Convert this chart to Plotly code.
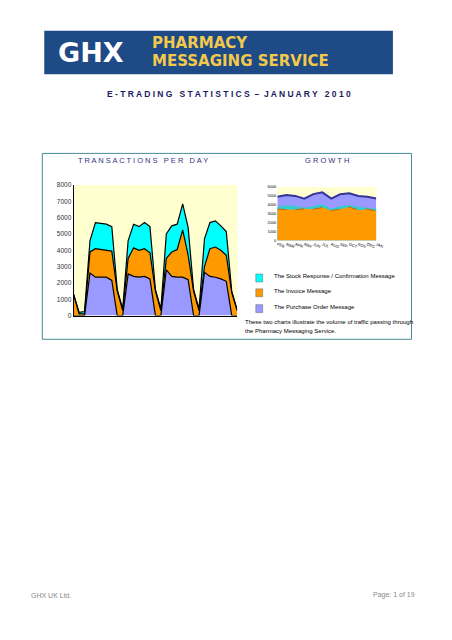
import plotly.graph_objects as go

days = list(range(1, 32))
po_total = [0,0,0,2600,2350,2350,2350,2150,0,0,2550,2400,2350,2400,2250,0,0,2800,2400,2350,2350,2200,0,0,2650,2400,2350,2250,2100,0,0]
inv_cum = [1300,100,100,3900,4100,4050,4000,3950,1500,300,3500,4150,4000,4100,3850,1500,300,3500,3900,4050,5250,3700,1500,300,3000,4100,4200,4000,3700,1400,300]
stock_cum = [1300,200,250,4600,5700,5650,5600,5450,1600,400,4600,5600,5450,5700,5450,1600,400,5000,5500,5600,6850,5400,1600,400,4700,5700,5800,5500,5150,1500,350]
invoice = [c - p for c, p in zip(inv_cum, po_total)]
stock = [s - c for s, c in zip(stock_cum, inv_cum)]

months = ["FEB","MAR","APR","MAY","JUN","JUL","AUG","SEP","OCT","NOV","DEC","JAN"]
g_po = [4900,5100,5000,4700,5200,5400,4700,5200,5300,5000,4900,4700]
g_stock = [3700,3900,3800,3600,3800,4000,3500,3800,3900,3700,3600,3500]
g_inv = [3500,3500,3450,3550,3500,3700,3350,3500,3750,3400,3500,3300]

OFF = 8
W, H = 452 - 2 * OFF, 640 - 2 * OFF
fig = go.Figure()
kw = dict(mode="lines", line=dict(color="black", width=1.2), stackgroup="a", xaxis="x", yaxis="y", showlegend=False)
fig.add_trace(go.Scatter(x=days, y=po_total, fillcolor="#9999FF", **kw))
fig.add_trace(go.Scatter(x=days, y=invoice, fillcolor="#FF9900", **kw))
fig.add_trace(go.Scatter(x=days, y=stock, fillcolor="#00FFFF", **kw))

fig.add_trace(go.Scatter(x=months, y=g_po, fill="tozeroy", fillcolor="#9999FF", line=dict(color="#333399", width=2), mode="lines", xaxis="x2", yaxis="y2", showlegend=False))
fig.add_trace(go.Scatter(x=months, y=g_stock, fill="tozeroy", fillcolor="#33CCCC", line=dict(color="#33CCCC", width=1), mode="lines", xaxis="x2", yaxis="y2", showlegend=False))
fig.add_trace(go.Scatter(x=months, y=g_inv, fill="tozeroy", fillcolor="#FF9900", line=dict(color="#CC6600", width=1, dash="dash"), mode="lines", xaxis="x2", yaxis="y2", showlegend=False))

def px(x): return (x - OFF) / W
def py(y): return 1 - (y - OFF) / H

fig.update_layout(
    width=W, height=H, margin=dict(l=0, r=0, t=0, b=0),
    paper_bgcolor="white", plot_bgcolor="#FFFFD0",
    font=dict(family="Liberation Sans, Arial", color="black"),
    xaxis=dict(domain=[px(74), px(241)], range=[1, 31], showticklabels=False, showgrid=False, zeroline=False, linecolor="black", showline=True),
    yaxis=dict(domain=[py(315), py(183)], range=[0, 8000], dtick=1000, showgrid=False, zeroline=False, tickfont=dict(size=6.5, color="#333"), ticks="", linecolor="black", showline=True),
    xaxis2=dict(domain=[px(282), px(383)], anchor="y2", tickfont=dict(size=4), tickangle=20, showgrid=False, ticks=""),
    yaxis2=dict(domain=[py(239), py(185)], anchor="x2", range=[0, 6000], dtick=1000, tickfont=dict(size=4), showgrid=False, zeroline=False, ticks=""),
)
shapes = [
    dict(type="rect", xref="paper", yref="paper", x0=px(44), x1=px(400), y0=py(71), y1=py(27), fillcolor="#1E4A86", line=dict(width=0), layer="below"),
    dict(type="rect", xref="paper", yref="paper", x0=px(42), x1=px(419), y0=py(339), y1=py(151), fillcolor="rgba(0,0,0,0)", line=dict(color="#4A8A9A", width=1)),
]
for y, c in [(277, "#00FFFF"), (292, "#FF9900"), (308, "#9999FF")]:
    shapes.append(dict(type="rect", xref="paper", yref="paper", x0=px(260), x1=px(267), y0=py(y + 4), y1=py(y - 4), fillcolor=c, line=dict(color="#666", width=0.5)))
fig.update_layout(shapes=shapes)

def t(x, y, s, size=8, anchor="left", color="black", **k):
    fig.add_annotation(x=px(x), y=py(y), xref="paper", yref="paper", text=s, showarrow=False, xanchor=anchor, yanchor="middle", font=dict(size=size, color=color, family=k.pop("family", "Liberation Sans, Arial")), **k)

t(56, 49, "<b>GHX</b>", 27, color="white", family="DejaVu Sans")
t(152, 39, "<b>PHARMACY</b>", 15, color="#F2C94C", family="DejaVu Sans")
t(152, 58, "<b>MESSAGING SERVICE</b>", 15, color="#F2C94C", family="DejaVu Sans")
t(233, 91, "<b>E - T R A D I N G   S T A T I S T I C S  –  J A N U A R Y   2 0 1 0</b>", 8.5, anchor="center", color="#1A1A5E")
t(145, 158, "T R A N S A C T I O N S   P E R   D A Y", 7.5, anchor="center", color="#333380")
t(333, 158, "G R O W T H", 7.5, anchor="center", color="#333380")
t(277, 275, "The Stock Response / Confirmation Message", 6)
t(277, 290, "The Invoice Message", 6)
t(277, 306, "The Purchase Order Message", 6)
t(247, 322, "These two charts illustrate the volume of traffic passing through", 6)
t(247, 331, "the Pharmacy Messaging Service.", 6)
t(28, 598, "GHX UK Ltd.", 7, color="#888888")
t(425, 598, "Page: 1 of 19", 7, anchor="right", color="#888888")
fig.write_html("out.html")
